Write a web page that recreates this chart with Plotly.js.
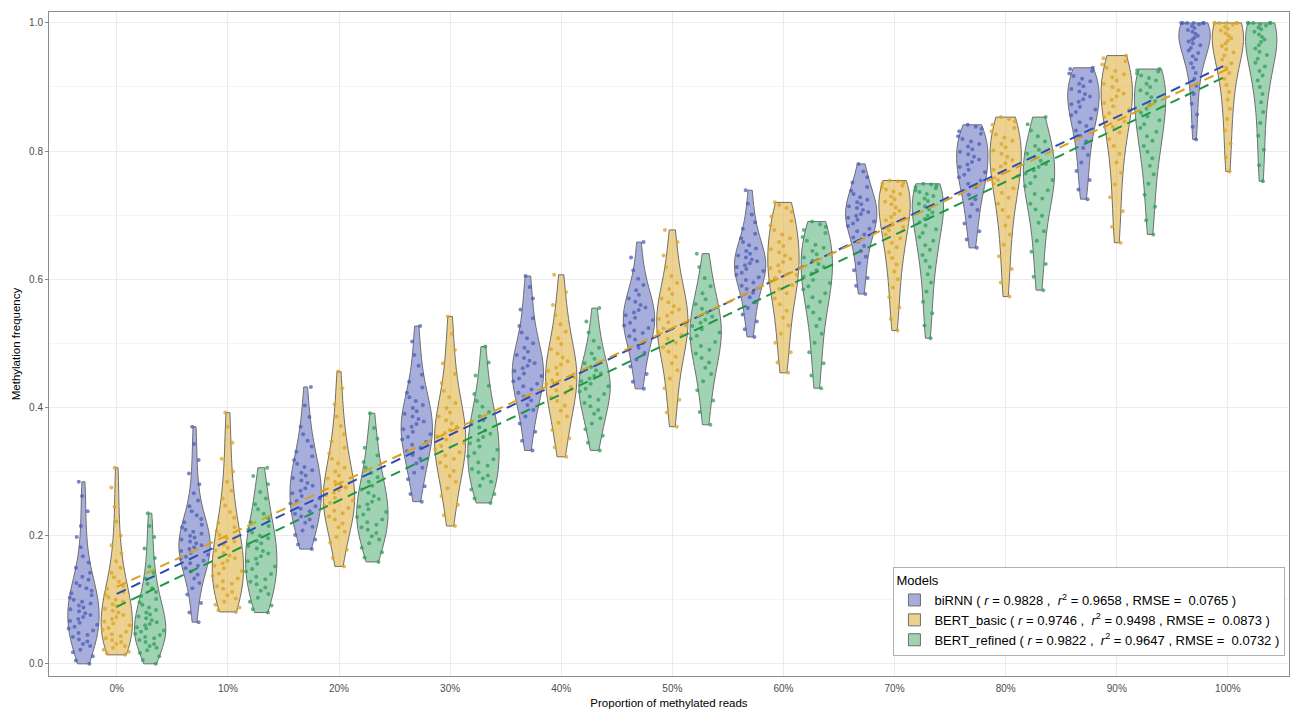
<!DOCTYPE html>
<html>
<head>
<meta charset="utf-8">
<script src="https://cdn.plot.ly/plotly-3.0.1.min.js"></script>
<style>html,body{margin:0;padding:0;background:#fff;}#chart{width:1290px;height:709px;}</style>
</head>
<body>
<div id="chart"></div>
<script>
// Categories (x axis)
const categories = ['0%','10%','20%','30%','40%','50%','60%','70%','80%','90%','100%'];

// Model names and legend labels
const modelNames = ['biRNN','BERT_basic','BERT_refined'];
const legendLabels = [
  'biRNN ( <i>r</i> = 0.9828 ,  <i>r</i><sup>2</sup> = 0.9658 , RMSE =  0.0765 )',
  'BERT_basic ( <i>r</i> = 0.9746 ,  <i>r</i><sup>2</sup> = 0.9498 , RMSE =  0.0873 )',
  'BERT_refined ( <i>r</i> = 0.9822 ,  <i>r</i><sup>2</sup> = 0.9647 , RMSE =  0.0732 )'
];

// Per-read methylation frequencies, one list per category
const biRNN = [
  [0.000,0.005,0.012,0.018,0.022,0.028,0.031,0.035,0.038,0.042,0.045,0.048,0.052,0.055,0.058,0.061,0.064,0.067,0.070,0.073,0.076,0.079,0.082,0.085,0.088,0.091,0.094,0.097,0.100,0.103,0.107,0.110,0.114,0.118,0.122,0.126,0.131,0.136,0.142,0.150,0.158,0.168,0.182,0.198,0.215,0.238,0.262,0.284],
  [0.065,0.080,0.095,0.108,0.118,0.126,0.133,0.139,0.144,0.149,0.153,0.157,0.161,0.164,0.167,0.170,0.173,0.176,0.179,0.182,0.185,0.188,0.191,0.194,0.197,0.200,0.203,0.206,0.209,0.213,0.217,0.221,0.226,0.232,0.238,0.246,0.255,0.266,0.280,0.297,0.318,0.343,0.370],
  [0.179,0.186,0.194,0.201,0.208,0.214,0.220,0.225,0.230,0.234,0.238,0.242,0.246,0.250,0.254,0.258,0.262,0.266,0.270,0.274,0.278,0.282,0.286,0.290,0.294,0.298,0.302,0.307,0.312,0.318,0.324,0.331,0.339,0.348,0.358,0.370,0.385,0.403,0.432],
  [0.253,0.265,0.277,0.288,0.298,0.306,0.313,0.320,0.326,0.332,0.337,0.342,0.346,0.350,0.354,0.358,0.362,0.366,0.370,0.374,0.378,0.382,0.386,0.390,0.394,0.399,0.404,0.410,0.416,0.423,0.431,0.440,0.451,0.465,0.482,0.503,0.527],
  [0.333,0.348,0.362,0.375,0.386,0.396,0.404,0.411,0.417,0.423,0.428,0.433,0.437,0.441,0.445,0.449,0.453,0.457,0.461,0.465,0.469,0.473,0.477,0.482,0.487,0.493,0.500,0.508,0.517,0.527,0.539,0.553,0.570,0.588,0.605],
  [0.429,0.440,0.452,0.464,0.475,0.485,0.493,0.500,0.506,0.511,0.516,0.520,0.524,0.528,0.532,0.536,0.540,0.544,0.548,0.552,0.556,0.560,0.565,0.570,0.576,0.583,0.591,0.601,0.614,0.634,0.658],
  [0.510,0.522,0.534,0.545,0.555,0.564,0.572,0.579,0.585,0.590,0.595,0.599,0.603,0.607,0.610,0.613,0.616,0.619,0.622,0.625,0.628,0.631,0.634,0.637,0.640,0.644,0.648,0.653,0.658,0.664,0.671,0.679,0.689,0.701,0.718,0.739],
  [0.577,0.590,0.602,0.614,0.625,0.635,0.644,0.652,0.659,0.665,0.670,0.675,0.679,0.683,0.687,0.690,0.693,0.696,0.699,0.702,0.705,0.708,0.711,0.714,0.717,0.720,0.724,0.728,0.733,0.738,0.744,0.751,0.759,0.768,0.780],
  [0.649,0.662,0.675,0.687,0.698,0.708,0.717,0.725,0.732,0.738,0.744,0.749,0.754,0.759,0.763,0.767,0.771,0.775,0.779,0.783,0.787,0.791,0.795,0.799,0.803,0.807,0.811,0.815,0.819,0.823,0.827,0.831,0.835,0.838,0.841],
  [0.725,0.740,0.755,0.769,0.782,0.794,0.805,0.815,0.824,0.832,0.839,0.845,0.851,0.856,0.861,0.865,0.869,0.873,0.877,0.881,0.885,0.889,0.893,0.897,0.901,0.905,0.909,0.913,0.917,0.921,0.925,0.928,0.930],
  [0.818,0.838,0.857,0.874,0.889,0.902,0.913,0.922,0.930,0.937,0.943,0.948,0.953,0.957,0.961,0.965,0.968,0.971,0.974,0.977,0.980,0.983,0.986,0.989,0.992,0.995,0.998,1.000,1.000,1.000,1.000,1.000,1.000]
];
const BERT_basic = [
  [0.014,0.016,0.019,0.022,0.025,0.028,0.031,0.034,0.037,0.040,0.043,0.046,0.050,0.053,0.056,0.060,0.063,0.066,0.070,0.073,0.076,0.080,0.083,0.086,0.090,0.093,0.097,0.100,0.104,0.108,0.112,0.117,0.122,0.128,0.135,0.142,0.150,0.160,0.172,0.185,0.200,0.222,0.245,0.275,0.306],
  [0.081,0.084,0.088,0.092,0.097,0.102,0.107,0.112,0.117,0.121,0.125,0.129,0.133,0.137,0.141,0.145,0.149,0.153,0.157,0.161,0.165,0.169,0.173,0.177,0.181,0.186,0.191,0.196,0.201,0.207,0.213,0.220,0.228,0.237,0.247,0.258,0.270,0.284,0.300,0.320,0.345,0.370,0.392],
  [0.152,0.165,0.178,0.189,0.198,0.206,0.213,0.219,0.225,0.230,0.235,0.239,0.243,0.247,0.251,0.255,0.259,0.263,0.267,0.271,0.275,0.279,0.284,0.289,0.294,0.300,0.306,0.313,0.320,0.328,0.337,0.347,0.358,0.371,0.386,0.405,0.430,0.456],
  [0.215,0.232,0.248,0.262,0.274,0.284,0.293,0.301,0.308,0.314,0.320,0.325,0.330,0.335,0.340,0.345,0.350,0.355,0.360,0.365,0.370,0.375,0.380,0.386,0.392,0.399,0.407,0.416,0.426,0.438,0.452,0.469,0.490,0.515,0.542],
  [0.323,0.338,0.352,0.365,0.376,0.386,0.395,0.403,0.410,0.416,0.422,0.427,0.432,0.437,0.442,0.447,0.452,0.457,0.462,0.467,0.472,0.478,0.484,0.491,0.499,0.508,0.518,0.530,0.544,0.560,0.580,0.607],
  [0.370,0.392,0.412,0.430,0.445,0.458,0.469,0.479,0.487,0.494,0.501,0.507,0.513,0.518,0.523,0.528,0.533,0.538,0.543,0.548,0.553,0.558,0.564,0.570,0.577,0.585,0.594,0.605,0.619,0.637,0.658,0.677],
  [0.454,0.470,0.486,0.501,0.515,0.528,0.540,0.551,0.561,0.570,0.578,0.585,0.591,0.597,0.602,0.607,0.612,0.617,0.622,0.627,0.632,0.637,0.642,0.647,0.652,0.658,0.664,0.670,0.677,0.684,0.691,0.698,0.705,0.711,0.716,0.720],
  [0.520,0.538,0.556,0.572,0.587,0.600,0.612,0.623,0.633,0.642,0.650,0.657,0.664,0.670,0.676,0.682,0.687,0.692,0.697,0.702,0.707,0.712,0.717,0.721,0.725,0.729,0.733,0.737,0.740,0.743,0.746,0.749,0.751,0.753,0.754],
  [0.573,0.595,0.616,0.636,0.654,0.670,0.684,0.697,0.708,0.718,0.727,0.735,0.742,0.749,0.755,0.761,0.766,0.771,0.776,0.781,0.786,0.791,0.796,0.801,0.806,0.811,0.816,0.821,0.826,0.831,0.836,0.841,0.846,0.850,0.853],
  [0.657,0.682,0.706,0.728,0.748,0.766,0.782,0.796,0.808,0.819,0.829,0.838,0.846,0.853,0.859,0.865,0.870,0.875,0.880,0.885,0.890,0.895,0.900,0.905,0.910,0.915,0.920,0.925,0.930,0.935,0.940,0.945,0.949],
  [0.768,0.790,0.812,0.832,0.850,0.866,0.880,0.892,0.903,0.913,0.922,0.930,0.937,0.943,0.949,0.954,0.959,0.964,0.968,0.972,0.976,0.980,0.984,0.988,0.991,0.994,0.997,1.000,1.000,1.000,1.000,1.000,1.000]
];
const BERT_refined = [
  [0.000,0.006,0.012,0.017,0.021,0.025,0.028,0.031,0.034,0.037,0.040,0.042,0.045,0.047,0.050,0.052,0.055,0.057,0.060,0.062,0.065,0.068,0.071,0.074,0.077,0.080,0.084,0.088,0.092,0.096,0.101,0.106,0.112,0.118,0.125,0.133,0.142,0.152,0.165,0.180,0.198,0.215,0.235],
  [0.080,0.085,0.091,0.097,0.103,0.109,0.114,0.119,0.124,0.128,0.132,0.136,0.140,0.144,0.148,0.152,0.156,0.160,0.164,0.168,0.172,0.176,0.180,0.184,0.188,0.192,0.196,0.200,0.205,0.210,0.215,0.221,0.227,0.234,0.241,0.249,0.258,0.268,0.280,0.293,0.306],
  [0.159,0.166,0.174,0.181,0.188,0.194,0.199,0.204,0.209,0.213,0.217,0.221,0.225,0.229,0.233,0.237,0.241,0.245,0.249,0.253,0.257,0.262,0.267,0.272,0.278,0.284,0.291,0.298,0.306,0.315,0.325,0.337,0.351,0.368,0.391],
  [0.251,0.258,0.265,0.272,0.278,0.284,0.289,0.294,0.299,0.304,0.309,0.314,0.319,0.324,0.329,0.334,0.339,0.344,0.349,0.354,0.359,0.364,0.369,0.374,0.380,0.386,0.393,0.401,0.410,0.421,0.434,0.450,0.470,0.495],
  [0.333,0.345,0.356,0.366,0.375,0.383,0.390,0.396,0.402,0.407,0.412,0.417,0.421,0.425,0.429,0.433,0.437,0.441,0.445,0.449,0.453,0.458,0.463,0.469,0.476,0.484,0.493,0.504,0.517,0.534,0.555],
  [0.373,0.393,0.411,0.427,0.441,0.452,0.462,0.470,0.477,0.484,0.490,0.496,0.502,0.507,0.512,0.517,0.522,0.527,0.532,0.537,0.542,0.548,0.554,0.561,0.569,0.578,0.589,0.602,0.619,0.640],
  [0.430,0.450,0.469,0.486,0.501,0.515,0.527,0.538,0.548,0.557,0.565,0.572,0.578,0.584,0.589,0.594,0.599,0.604,0.609,0.614,0.619,0.624,0.629,0.634,0.639,0.644,0.649,0.654,0.660,0.666,0.672,0.677,0.682,0.686,0.690],
  [0.508,0.528,0.547,0.565,0.581,0.595,0.608,0.619,0.629,0.638,0.646,0.653,0.660,0.666,0.672,0.678,0.684,0.689,0.694,0.699,0.704,0.709,0.714,0.718,0.722,0.726,0.730,0.733,0.736,0.739,0.742,0.744,0.746,0.748,0.749],
  [0.583,0.604,0.624,0.643,0.660,0.675,0.688,0.699,0.709,0.718,0.726,0.733,0.739,0.745,0.750,0.755,0.760,0.765,0.770,0.775,0.780,0.785,0.790,0.796,0.802,0.808,0.815,0.823,0.832,0.842,0.853],
  [0.670,0.692,0.713,0.732,0.749,0.764,0.777,0.789,0.799,0.808,0.816,0.823,0.830,0.836,0.842,0.848,0.854,0.860,0.866,0.872,0.878,0.884,0.890,0.895,0.900,0.905,0.910,0.914,0.918,0.921,0.924,0.926,0.928],
  [0.753,0.778,0.802,0.824,0.844,0.861,0.876,0.889,0.900,0.910,0.918,0.925,0.932,0.938,0.944,0.950,0.955,0.960,0.965,0.970,0.974,0.978,0.982,0.986,0.990,0.993,0.996,0.998,1.000,1.000,1.000,1.000,1.000]
];

// Linear-fit line values at 0% and 100%
const fitAt0 = [0.109, 0.120, 0.089];
const fitAt100 = [0.936, 0.928, 0.918];

// Styles
const fillColors = ['rgba(120,130,200,0.65)','rgba(222,178,60,0.58)','rgba(70,170,110,0.52)'];
const pointColors = ['#4B5DB6','#D9A321','#2F9E5A'];
const lineColors = ['#2E4DB3','#D9A11C','#1E9645'];

const modelData = [biRNN, BERT_basic, BERT_refined];
const traces = [];
modelData.forEach((groups, m) => {
  groups.forEach((vals, i) => {
    traces.push({
      type: 'violin', x: vals.map(() => categories[i]), y: vals,
      name: legendLabels[m], legendgroup: modelNames[m], showlegend: i === 0,
      offsetgroup: modelNames[m], alignmentgroup: 'all',
      scalegroup: modelNames[m] + '_' + categories[i], scalemode: 'width',
      spanmode: 'hard', points: 'all', jitter: 1, pointpos: 0,
      fillcolor: fillColors[m], line: {color: '#6E6E6E', width: 1},
      marker: {color: pointColors[m], size: 4, opacity: 0.75},
      box: {visible: false}, meanline: {visible: false}, hoverinfo: 'y'
    });
  });
});
modelData.forEach((groups, m) => {
  traces.push({
    type: 'scatter', mode: 'lines', x: [categories[0], categories[categories.length-1]],
    y: [fitAt0[m], fitAt100[m]], legendgroup: modelNames[m], showlegend: false,
    line: {color: lineColors[m], width: 2, dash: '10px,6px'}, hoverinfo: 'skip'
  });
});

const layout = {
  width: 1290, height: 709,
  margin: {l: 49, r: 1, t: 12, b: 33},
  paper_bgcolor: '#fff', plot_bgcolor: '#fff',
  font: {family: 'Liberation Sans, Arial, sans-serif', color: '#000'},
  violinmode: 'group', violingap: 0.1, violingroupgap: 0.06,
  xaxis: {
    type: 'category', categoryorder: 'array', categoryarray: categories,
    range: [-0.61, 10.55], showgrid: true, gridcolor: '#EBEBEB', gridwidth: 1,
    showline: true, linecolor: '#8C8C8C', linewidth: 1, mirror: true,
    ticks: 'outside', ticklen: 3, tickcolor: '#fff',
    tickfont: {size: 10, color: '#4D4D4D'}, zeroline: false,
    title: {text: 'Proportion of methylated reads', font: {size: 11.5, color: '#000'}, standoff: 6}
  },
  yaxis: {
    range: [-0.019, 1.017], tickvals: [0, 0.2, 0.4, 0.6, 0.8, 1.0],
    ticktext: ['0.0','0.2','0.4','0.6','0.8','1.0'],
    showgrid: true, gridcolor: '#EBEBEB', gridwidth: 1,
    minor: {tickvals: [0.1, 0.3, 0.5, 0.7, 0.9], showgrid: true, gridcolor: '#F4F4F4', gridwidth: 1, ticks: ''},
    showline: true, linecolor: '#8C8C8C', linewidth: 1, mirror: true,
    ticks: 'outside', ticklen: 3, tickcolor: '#8C8C8C',
    tickfont: {size: 10, color: '#4D4D4D'}, zeroline: false,
    title: {text: 'Methylation frequency', font: {size: 11.5, color: '#000'}, standoff: 6}
  },
  legend: {
    x: 0.681, y: 0.164, xanchor: 'left', yanchor: 'top',
    bgcolor: '#fff', bordercolor: '#B0B0B0', borderwidth: 1,
    font: {size: 13, color: '#000'}, tracegroupgap: 0,
    title: {text: 'Models', font: {size: 13, color: '#000'}}
  },
  showlegend: true
};

Plotly.newPlot('chart', traces, layout, {displayModeBar: false, staticPlot: true});
</script>
</body>
</html>
